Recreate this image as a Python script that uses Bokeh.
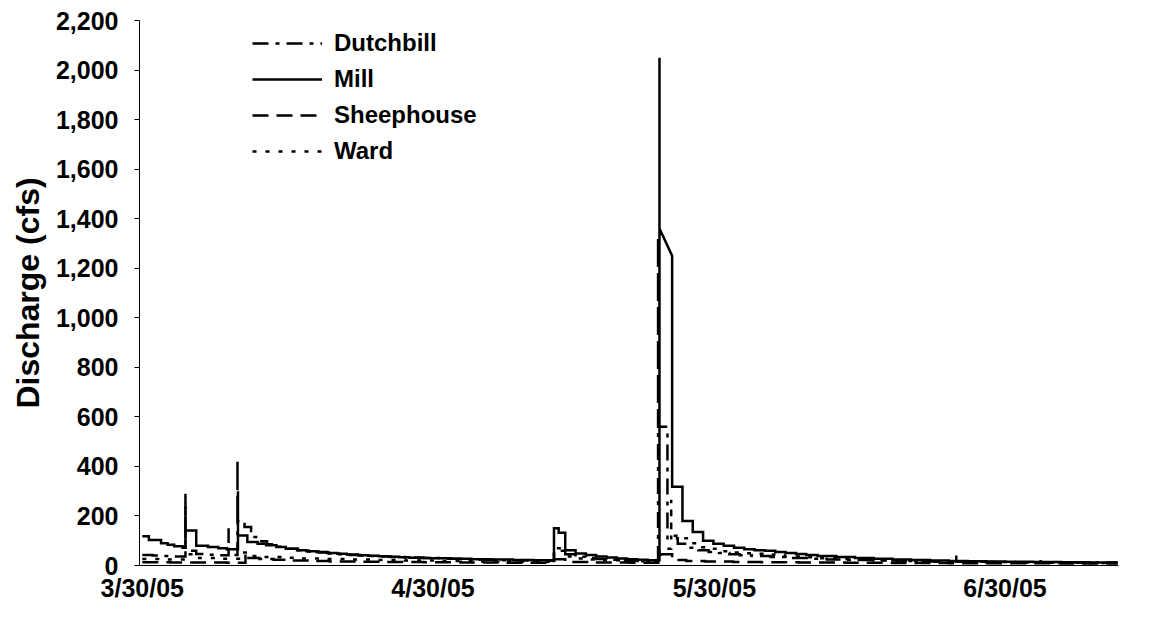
from bokeh.plotting import figure
from bokeh.models import Range1d, FixedTicker, NumeralTickFormatter, Legend, LegendItem
from bokeh.embed import file_html
from bokeh.resources import INLINE

# Stream discharge (cfs), spring 2005. Time is in days after 3/30/05;
# each (day, cfs) pair starts a new level, repeated days mark storm peaks.
dutchbill = [(0, 42), (1.1, 40), (2.2, 38), (3.3, 36), (4.6, 290), (4.6, 60), (5.75, 46),
             (6.9, 43), (8.0, 41), (9.2, 150), (9.2, 42), (10.15, 430), (10.15, 180),
             (10.9, 155), (11.6, 115), (12.4, 98), (13.3, 86), (14.4, 76), (15.5, 68),
             (16.6, 62), (17.7, 57), (18.8, 52), (19.9, 48), (21.0, 45), (22.1, 42),
             (23.2, 40), (24.3, 38), (25.4, 36), (26.5, 34), (28.0, 32), (30.0, 30),
             (32.0, 27), (34.0, 25), (36.0, 23), (38.0, 21), (40.0, 20), (42.0, 19),
             (43.9, 70), (45.1, 45), (46.2, 35), (47.3, 30), (48.4, 26), (49.5, 23),
             (50.6, 21), (51.7, 19), (52.8, 18), (55.0, 1330), (55.0, 560), (56.0, 110),
             (57.1, 88), (58.2, 72), (59.3, 62), (60.4, 55), (61.5, 50), (62.6, 45),
             (63.7, 41), (65.0, 38), (67.0, 34), (69.0, 30), (71.0, 27), (73.0, 24),
             (75.0, 22), (78.0, 20), (81.0, 18), (84.0, 16), (86.8, 40), (86.8, 15),
             (90.0, 14), (93.0, 13), (95.8, 32), (95.8, 13), (100.0, 12), (104.0, 12)]

mill = [(0, 118), (0.7, 103), (2.0, 90), (2.7, 84), (3.4, 78), (4.3, 72), (4.6, 250),
        (4.6, 141), (5.75, 80), (7.0, 75), (8.1, 70), (9.0, 66), (10.2, 300), (10.2, 121),
        (11.2, 95), (12.3, 88), (13.2, 82), (14.3, 75), (15.3, 68), (16.5, 62), (17.5, 58),
        (18.6, 54), (19.7, 50), (20.8, 47), (21.8, 44), (23.0, 41), (24.1, 39), (25.2, 37),
        (26.3, 35), (27.4, 33), (28.5, 31), (29.6, 30), (30.7, 29), (32.9, 27), (35.1, 25),
        (37.3, 24), (39.5, 22), (41.7, 21), (43.9, 150), (44.4, 132), (45.1, 62),
        (46.2, 48), (47.3, 42), (48.4, 36), (49.5, 32), (50.6, 28), (51.7, 25), (52.8, 23),
        (53.9, 21), (55.15, 2050), (55.15, 1360), (56.5, 1250), (56.5, 318), (57.6, 180),
        (58.7, 135), (59.8, 100), (60.9, 88), (62.0, 80), (63.1, 72), (64.2, 66), (65.3, 62),
        (66.4, 60), (67.5, 55), (68.6, 50), (69.7, 46), (70.8, 42), (72.0, 38), (74.0, 34),
        (76.0, 30), (78.0, 27), (80.0, 24), (82.0, 22), (84.0, 20), (86.0, 18), (88.0, 17),
        (90.0, 16), (92.0, 15), (95.0, 14), (98.0, 13), (101.0, 12), (104.0, 12)]
# readings joined by a straight run instead of a held level (crest recession)
mill_ramps = [(55.15, 1360)]

sheephouse = [(0, 13), (3, 12), (6, 12), (9, 11), (11.0, 50), (11.0, 30), (12.5, 26),
              (14, 23), (16, 20), (18, 18), (20, 16), (23, 15), (26, 14), (30, 13), (34, 12),
              (38, 11), (43.9, 25), (45.1, 14), (48, 12), (52, 11), (55.3, 45), (56.5, 22),
              (58, 18), (60, 16), (63, 14), (66, 13), (70, 12), (75, 11), (80, 10), (86, 9),
              (92, 9), (98, 8), (104, 8)]

ward = [(0, 26), (2.5, 24), (4.7, 45), (5.8, 30), (8, 27), (10.3, 52), (11.3, 38), (13, 34),
        (15, 31), (17, 28), (19, 26), (22, 24), (25, 22), (28, 20), (32, 18), (36, 16),
        (40, 15), (43.9, 60), (45.1, 36), (46.2, 28), (47.5, 24), (49, 21), (51, 19),
        (53, 17), (55.1, 68), (56.4, 265), (56.4, 120), (57.5, 110), (58.6, 90), (59.7, 74),
        (60.8, 68), (61.9, 58), (63, 52), (64.1, 49), (65.2, 47), (66.3, 44), (67.4, 40),
        (68.5, 36), (70, 33), (72, 29), (74, 26), (76, 23), (78, 20), (80, 18), (84, 15),
        (88, 13), (92, 12), (96, 11), (100, 10), (104, 10)]

tick_days = [0, 31, 61, 92]
tick_labels = ["3/30/05", "4/30/05", "5/30/05", "6/30/05"]

FONT = "Liberation Sans"


def step_vertices(pairs, ramps=()):
    """Hold each reading until the next one; ramp points join straight."""
    xs, ys = [], []
    for i, (d, q) in enumerate(pairs):
        xs.append(d)
        ys.append(q)
        if i + 1 < len(pairs) and (d, q) not in ramps:
            xs.append(pairs[i + 1][0])
            ys.append(q)
    return xs, ys


p = figure(width=1164, height=619, output_backend="svg", toolbar_location=None,
           x_range=Range1d(-0.3, 104.1), y_range=Range1d(0, 2200),
           min_border_left=139, min_border_right=46, min_border_top=20,
           min_border_bottom=54)
p.outline_line_color = None
p.xgrid.visible = False
p.ygrid.visible = False
p.background_fill_color = "white"
p.border_fill_color = "white"

styles = [("Dutchbill", dutchbill, (), "16 7 4 7"),
          ("Mill", mill, mill_ramps, "solid"),
          ("Sheephouse", sheephouse, (), "16 8"),
          ("Ward", ward, (), "4 9")]

items = []
for name, series, ramps, dash in styles:
    xs, ys = step_vertices(series, ramps)
    r = p.line(xs, ys, line_color="black", line_width=2.5, line_dash=dash,
               line_join="miter")
    items.append(LegendItem(label=name, renderers=[r]))

# y axis
ya = p.yaxis[0]
ya.ticker = FixedTicker(ticks=list(range(0, 2201, 200)))
ya.formatter = NumeralTickFormatter(format="0,0")
ya.axis_label = "Discharge (cfs)"
ya.major_tick_out = 5
ya.major_tick_in = 0
ya.minor_tick_out = 0
ya.minor_tick_in = 0
ya.major_label_standoff = 16
ya.axis_label_standoff = 7

# x axis
xa = p.xaxis[0]
xa.ticker = FixedTicker(ticks=tick_days)
xa.major_label_overrides = {d: lab for d, lab in zip(tick_days, tick_labels)}
xa.major_tick_out = 0
xa.major_tick_in = 0
xa.minor_tick_out = 0
xa.minor_tick_in = 0
xa.major_label_standoff = 8

for ax in (xa, ya):
    ax.axis_line_color = "black"
    ax.axis_line_width = 1
    ax.major_tick_line_color = "black"
    ax.major_label_text_font = FONT
    ax.major_label_text_font_style = "bold"
    ax.major_label_text_font_size = "25px"
    ax.major_label_text_color = "black"
    ax.axis_label_text_font = FONT
    ax.axis_label_text_font_style = "bold"
    ax.axis_label_text_font_size = "32px"
    ax.axis_label_text_color = "black"

legend = Legend(items=items, location=(113, 400), orientation="vertical",
                border_line_color=None, background_fill_alpha=0,
                label_text_font=FONT, label_text_font_style="bold",
                label_text_font_size="24px", label_text_color="black",
                glyph_width=70, glyph_height=24, label_height=24, spacing=8,
                padding=5, margin=0, label_standoff=12)
p.add_layout(legend)

open("out.html", "w").write(file_html(p, INLINE))
